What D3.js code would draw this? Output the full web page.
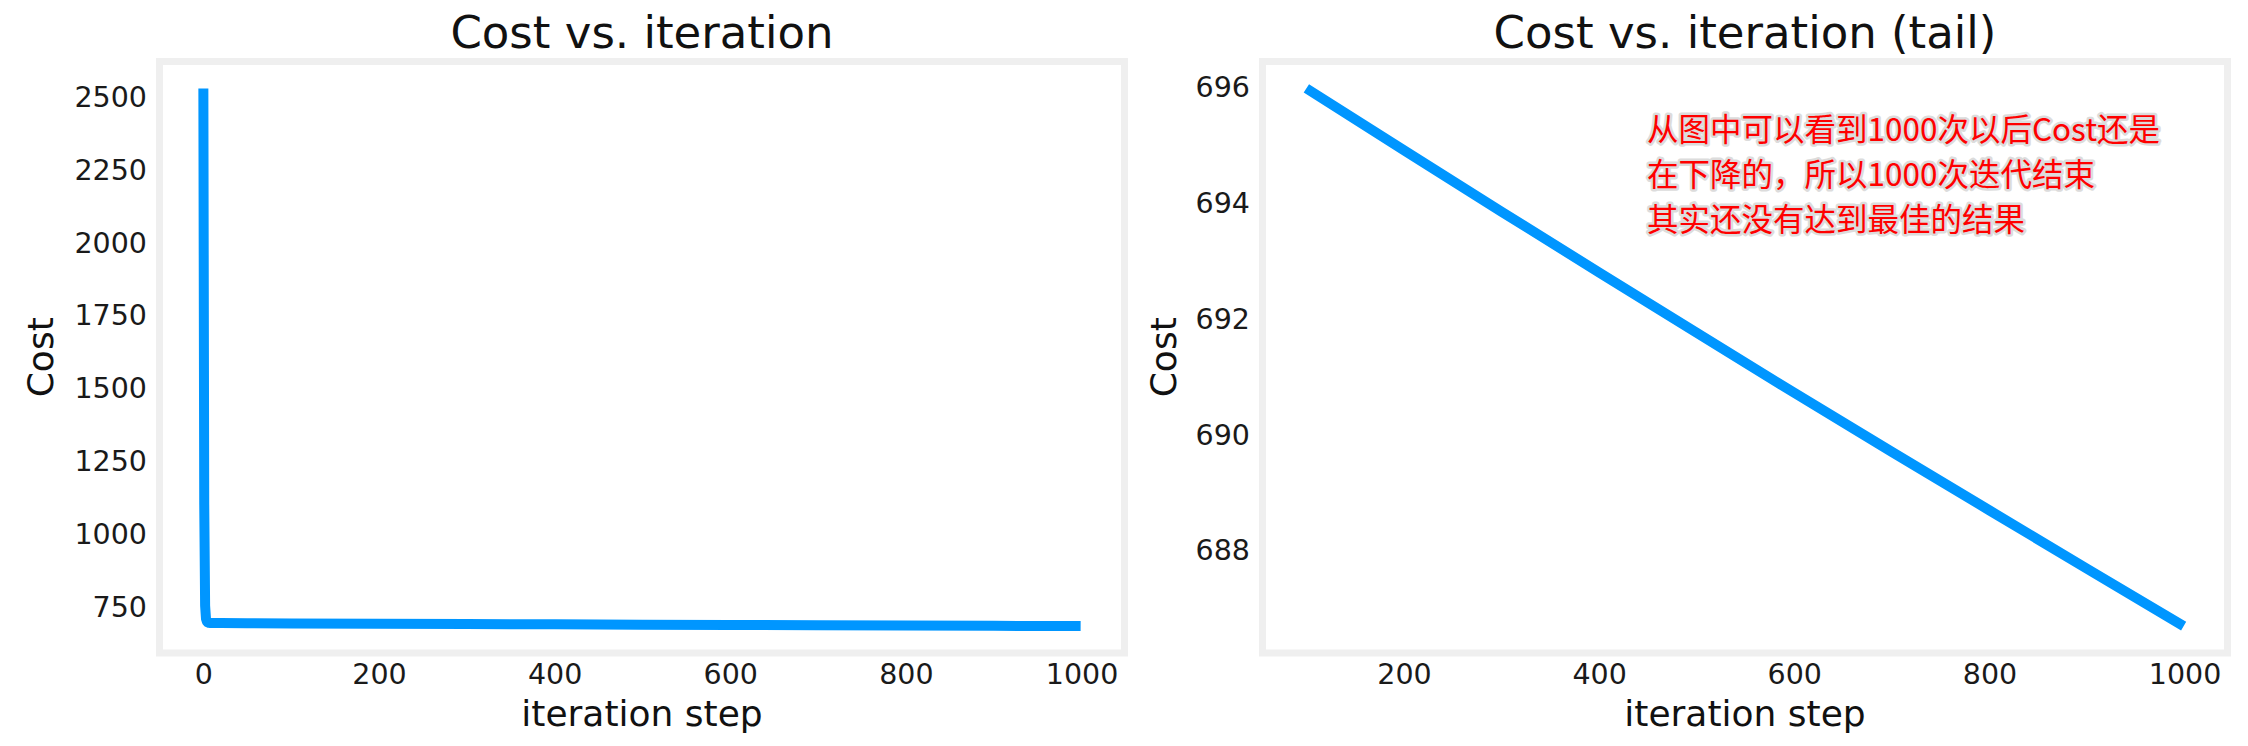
<!DOCTYPE html>
<html>
<head>
<meta charset="utf-8">
<script src="https://cdn.jsdelivr.net/npm/d3@7"></script>
<style>
  html, body { margin: 0; padding: 0; background: #ffffff; }
  svg { display: block; }
</style>
</head>
<body>
<svg id="chart" width="2248" height="746"></svg>
<script>
// ---------------- data ----------------
const iterAll = [0, 1, 2, 3, 4, 5, 6, 8, 10, 20, 50, 100, 200, 300, 400, 500, 600, 700, 800, 900, 999];
const costAll = [2529.46, 1103.2, 756.4, 711.8, 702.1, 699.4, 698.3, 697.6, 697.4, 697.1, 696.5,
                 695.99, 694.92, 693.86, 692.81, 691.77, 690.73, 689.71, 688.70, 687.69, 686.70];

const iterTail = [100, 200, 300, 400, 500, 600, 700, 800, 900, 999];
const costTail = [695.99, 694.92, 693.86, 692.81, 691.77, 690.73, 689.71, 688.70, 687.69, 686.70];

const leftXTicks = [0, 200, 400, 600, 800, 1000];
const leftYTicks = [750, 1000, 1250, 1500, 1750, 2000, 2250, 2500];
const rightXTicks = [200, 400, 600, 800, 1000];
const rightYTicks = [688, 690, 692, 694, 696];

const titles = ["Cost vs. iteration", "Cost vs. iteration (tail)"];
const xLabel = "iteration step";
const yLabel = "Cost";
const noteLines = [
  "从图中可以看到1000次以后Cost还是",
  "在下降的，所以1000次迭代结束",
  "其实还没有达到最佳的结果"
];

// ---------------- layout ----------------
const LINE_COLOR = "#0096ff";
const SPINE_COLOR = "#efefef";
const FONT = "'DejaVu Sans', sans-serif";
const plotTop = 61.5, plotBottom = 653;

const panels = [
  { x0: 159.5, x1: 1124.5, xs: iterAll, ys: costAll, xt: leftXTicks, yt: leftYTicks,
    title: titles[0], yLabelX: 53 },
  { x0: 1262.5, x1: 2227.5, xs: iterTail, ys: costTail, xt: rightXTicks, yt: rightYTicks,
    title: titles[1], yLabelX: 1176 }
];

const svg = d3.select("#chart");
svg.append("rect").attr("width", 2248).attr("height", 746).attr("fill", "#fff");

function padded(ext) {
  const m = (ext[1] - ext[0]) * 0.05;
  return [ext[0] - m, ext[1] + m];
}

panels.forEach(p => {
  const x = d3.scaleLinear().domain(padded(d3.extent(p.xs))).range([p.x0, p.x1]);
  const y = d3.scaleLinear().domain(padded(d3.extent(p.ys))).range([plotBottom, plotTop]);

  const g = svg.append("g");

  // x axis
  const gx = g.append("g")
    .attr("transform", `translate(0,${plotBottom})`)
    .call(d3.axisBottom(x).tickValues(p.xt).tickSize(0).tickPadding(11).tickFormat(d3.format("d")));
  gx.select(".domain").remove();
  gx.selectAll("text").attr("font-family", FONT).attr("font-size", 28.5).attr("fill", "#1a1a1a");

  // y axis
  const gy = g.append("g")
    .attr("transform", `translate(${p.x0},0)`)
    .call(d3.axisLeft(y).tickValues(p.yt).tickSize(0).tickPadding(12.5).tickFormat(d3.format("d")));
  gy.select(".domain").remove();
  gy.selectAll("text").attr("font-family", FONT).attr("font-size", 28.5).attr("fill", "#1a1a1a");

  // frame (spines)
  g.append("rect")
    .attr("x", p.x0).attr("y", plotTop)
    .attr("width", p.x1 - p.x0).attr("height", plotBottom - plotTop)
    .attr("fill", "none").attr("stroke", SPINE_COLOR).attr("stroke-width", 7);

  // line
  const data = p.xs.map((v, i) => [v, p.ys[i]]);
  g.append("path")
    .datum(data)
    .attr("fill", "none")
    .attr("stroke", LINE_COLOR)
    .attr("stroke-width", 10)
    .attr("stroke-linejoin", "round")
    .attr("stroke-linecap", "butt")
    .attr("d", d3.line().x(d => x(d[0])).y(d => y(d[1])));

  // title
  g.append("text")
    .attr("x", (p.x0 + p.x1) / 2).attr("y", 48)
    .attr("text-anchor", "middle")
    .attr("font-family", FONT).attr("font-size", 45).attr("fill", "#111")
    .text(p.title);

  // x label
  g.append("text")
    .attr("x", (p.x0 + p.x1) / 2).attr("y", 726)
    .attr("text-anchor", "middle")
    .attr("font-family", FONT).attr("font-size", 36).attr("fill", "#111")
    .text(xLabel);

  // y label
  g.append("text")
    .attr("transform", `translate(${p.yLabelX},${(plotTop + plotBottom) / 2}) rotate(-90)`)
    .attr("text-anchor", "middle")
    .attr("font-family", FONT).attr("font-size", 36).attr("fill", "#111")
    .text(yLabel);
});

// annotation
const note = svg.append("g");
note.selectAll("text")
  .data(noteLines)
  .join("text")
  .attr("x", 1647)
  .attr("y", (d, i) => 141 + i * 45)
  .attr("font-family", "'Noto Sans CJK SC', sans-serif")
  .attr("font-size", 31.5)
  .attr("fill", "#ff0000")
  .attr("stroke", "#dcdcdc")
  .attr("stroke-width", 5)
  .attr("stroke-linejoin", "round")
  .attr("paint-order", "stroke")
  .text(d => d);
</script>
</body>
</html>
